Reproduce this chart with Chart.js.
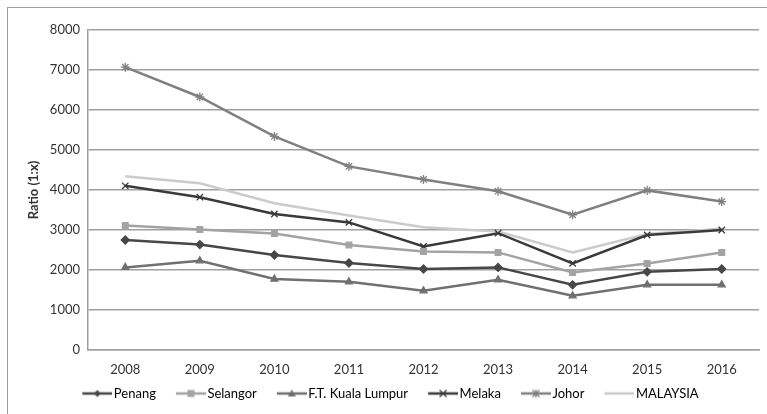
<!DOCTYPE html>
<html>
<head>
<meta charset="utf-8">
<script src="https://cdn.jsdelivr.net/npm/chart.js@4.4.0/dist/chart.umd.min.js"></script>
<style>
  html, body { margin: 0; padding: 0; background: #fff; overflow: hidden; }
  #frame {
    position: absolute; left: 7px; top: 7px;
    width: 772px; height: 420px;
    border: 1px solid #a0a0a0;
  }
  #chartBox { position: absolute; left: 0; top: 0; width: 772px; height: 402px; }
</style>
</head>
<body>
<div id="frame"><div id="chartBox"><canvas id="ratioChart"></canvas></div></div>
<script>
const years = ["2008", "2009", "2010", "2011", "2012", "2013", "2014", "2015", "2016"];
const penang = [2750, 2635, 2375, 2175, 2025, 2065, 1630, 1955, 2025];
const selangor = [3110, 3010, 2915, 2625, 2465, 2440, 1940, 2165, 2440];
const kualaLumpur = [2065, 2230, 1775, 1705, 1480, 1755, 1355, 1630, 1630];
const melaka = [4105, 3820, 3400, 3190, 2590, 2920, 2165, 2875, 3000];
const johor = [7070, 6325, 5340, 4590, 4265, 3970, 3380, 3990, 3710];
const malaysia = [4345, 4170, 3670, 3360, 3070, 2960, 2440, 2900, 3030];
const yTicks = [0, 1000, 2000, 3000, 4000, 5000, 6000, 7000, 8000];

const FONT = "Lato";

// line + marker picture for a legend entry, with blank space on its left
// so the entries sit apart while the legend padding stays small
function legendIcon(color, marker) {
  const c = document.createElement("canvas");
  c.width = 49; c.height = 12;
  const g = c.getContext("2d");
  g.strokeStyle = color; g.fillStyle = color; g.lineWidth = 2.5;
  g.beginPath(); g.moveTo(19, 6); g.lineTo(49, 6); g.stroke();
  g.lineWidth = 1.3;
  const x = 34, y = 6;
  if (marker === "rectRot") {
    g.beginPath(); g.moveTo(x, y - 3.5); g.lineTo(x + 3.5, y); g.lineTo(x, y + 3.5); g.lineTo(x - 3.5, y); g.closePath(); g.fill();
  } else if (marker === "rect") {
    g.fillRect(x - 3.5, y - 3.5, 7, 7);
  } else if (marker === "triangle") {
    g.beginPath(); g.moveTo(x, y - 4); g.lineTo(x + 4, y + 3); g.lineTo(x - 4, y + 3); g.closePath(); g.fill();
  } else if (marker === "crossRot") {
    g.beginPath(); g.moveTo(x - 3.5, y - 3.5); g.lineTo(x + 3.5, y + 3.5); g.moveTo(x + 3.5, y - 3.5); g.lineTo(x - 3.5, y + 3.5); g.stroke();
  } else if (marker === "star") {
    g.beginPath(); g.moveTo(x - 3.5, y - 3.5); g.lineTo(x + 3.5, y + 3.5); g.moveTo(x + 3.5, y - 3.5); g.lineTo(x - 3.5, y + 3.5);
    g.moveTo(x, y - 4); g.lineTo(x, y + 4); g.stroke();
  }
  return c;
}

function series(label, data, color, marker, radius) {
  return {
    label, data,
    borderColor: color, backgroundColor: color,
    pointBackgroundColor: color, pointBorderColor: color,
    borderWidth: 2.5, pointStyle: marker || false, pointRadius: radius,
    pointBorderWidth: 1.3, tension: 0,
    icon: legendIcon(color, marker)
  };
}

const ctx = document.getElementById("ratioChart").getContext("2d");
new Chart(ctx, {
  type: "line",
  data: {
    labels: years,
    datasets: [
      series("Penang", penang, "#474747", "rectRot", 4),
      series("Selangor", selangor, "#a3a3a3", "rect", 4),
      series("F.T. Kuala Lumpur", kualaLumpur, "#707070", "triangle", 4),
      series("Melaka", melaka, "#3a3a3a", "crossRot", 4.5),
      series("Johor", johor, "#808080", "star", 4.5),
      series("MALAYSIA", malaysia, "#cbcbcb", null, 0)
    ]
  },
  options: {
    responsive: true,
    maintainAspectRatio: false,
    animation: false,
    layout: { padding: { left: 0, right: 21, top: 22, bottom: 0 } },
    plugins: {
      tooltip: { enabled: false },
      legend: {
        position: "bottom",
        labels: {
          usePointStyle: true,
          pointStyleWidth: 39,
          boxHeight: 12,
          padding: 6,
          color: "#333",
          font: { family: FONT, size: 13 },
          generateLabels: (chart) => chart.data.datasets.map((ds, i) => ({
            text: ds.label,
            pointStyle: ds.icon,
            fillStyle: ds.borderColor,
            strokeStyle: ds.borderColor,
            lineWidth: 0,
            hidden: false,
            datasetIndex: i
          }))
        }
      }
    },
    scales: {
      x: {
        offset: true,
        grid: { display: false },
        border: { display: true, color: "#a0a0a0", width: 1.5 },
        afterFit: (scale) => { scale.height = 31; },
        ticks: { color: "#333", padding: 4, font: { family: FONT, size: 13 } }
      },
      y: {
        min: 0, max: 8000,
        afterBuildTicks: (scale) => { scale.ticks = yTicks.map(v => ({ value: v })); },
        afterFit: (scale) => { scale.width = 80; },
        grid: { color: "#a0a0a0", lineWidth: 1.5, drawTicks: false },
        border: { display: true, color: "#a0a0a0", width: 1.5 },
        ticks: {
          color: "#333", padding: 8, font: { family: FONT, size: 13 },
          callback: (v) => String(v)
        },
        title: {
          display: true, text: "Ratio (1:x)", color: "#333",
          font: { family: FONT, size: 13, weight: "bold" },
          padding: { top: 18, bottom: 0 }
        }
      }
    }
  }
});
</script>
</body>
</html>
